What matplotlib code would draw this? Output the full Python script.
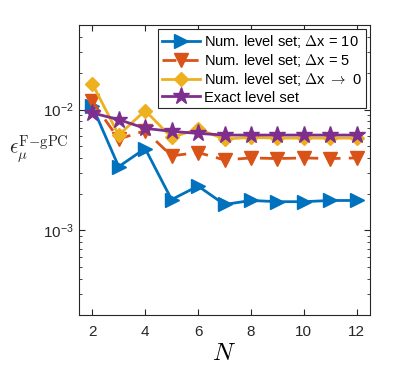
import numpy as np
import matplotlib
matplotlib.use("Agg")
import matplotlib.pyplot as plt
from matplotlib.ticker import LogLocator, NullFormatter

plt.rcParams['font.family'] = ['Liberation Sans', 'DejaVu Sans']
plt.rcParams['mathtext.fontset'] = 'cm'

N = [2, 3, 4, 5, 6, 7, 8, 9, 10, 11, 12]
err_dx10 = [0.0107, 0.00337, 0.00476, 0.0018, 0.00233, 0.00164, 0.00177, 0.00173, 0.00173, 0.00177, 0.00177]
err_dx5 = [0.0117, 0.0057, 0.00668, 0.00414, 0.00441, 0.00383, 0.00398, 0.00393, 0.00398, 0.00393, 0.00398]
err_dx0 = [0.0164, 0.00615, 0.0098, 0.00588, 0.0069, 0.0057, 0.00588, 0.0058, 0.0058, 0.0058, 0.0058]
err_exact = [0.00938, 0.00826, 0.00699, 0.0066, 0.00635, 0.00615, 0.00615, 0.00615, 0.00615, 0.00615, 0.00615]
labels = ['Num. level set; $\\Delta$x = 10', 'Num. level set; $\\Delta$x = 5',
          'Num. level set; $\\Delta$x $\\rightarrow$ 0', 'Exact level set']

fig = plt.figure(figsize=(3.99, 3.71), dpi=100)
ax = fig.add_axes([79/399, 1 - 315/371, (370 - 79)/399, (315 - 25)/371])

ax.plot(N, err_dx10, '-', color='#0072BD', lw=2, marker='>', ms=10, label=labels[0])
ax.plot(N, err_dx5, '--', color='#D95319', lw=2, marker='v', ms=10, label=labels[1], dashes=(5, 3))
ax.plot(N, err_dx0, '-', color='#EDB120', lw=2, marker='D', ms=7.5, label=labels[2])
ax.plot(N, err_exact, '-', color='#7E2F8E', lw=2, marker='*', ms=12.5, label=labels[3])

ax.set_yscale('log')
ax.set_xlim(1.5, 12.5)
ax.set_ylim(2e-4, 5e-2)
ax.set_xticks([2, 4, 6, 8, 10, 12])
ax.yaxis.set_major_locator(LogLocator(base=10, numticks=10))
ax.yaxis.set_minor_locator(LogLocator(base=10, subs=np.arange(2, 10), numticks=20))
ax.yaxis.set_minor_formatter(NullFormatter())
ax.tick_params(which='both', direction='in', top=True, right=True, labelsize=11, colors='#262626')
ax.tick_params(axis='x', pad=7)
ax.tick_params(which='major', length=4)
ax.tick_params(which='minor', length=2)
for s in ax.spines.values():
    s.set_color('#262626')
    s.set_linewidth(0.8)

ax.set_xlabel('$N$', fontsize=18, labelpad=2)
fig.text(9/399, 1 - 150/371, '$\\epsilon_\\mu^{\\mathrm{F{-}gPC}}$', fontsize=15,
         ha='left', va='center', color='#262626')

leg = ax.legend(loc='upper right', fontsize=10.5, handlelength=2.6, borderpad=0.25,
                labelspacing=0.15, handletextpad=0.3, fancybox=False, framealpha=1,
                edgecolor='#262626', borderaxespad=0.3)
leg.get_frame().set_linewidth(0.8)

fig.savefig('out.png', dpi=100)
